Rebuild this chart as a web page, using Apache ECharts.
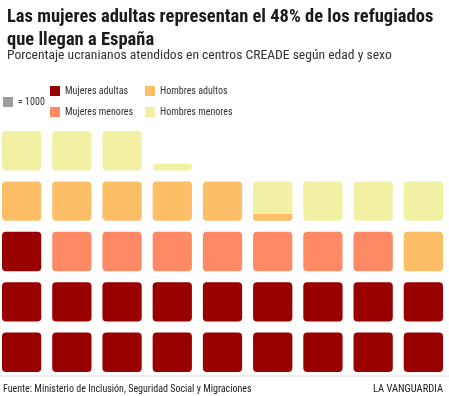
<!DOCTYPE html>
<html>
<head>
<meta charset="utf-8">
<script src="https://cdn.jsdelivr.net/npm/echarts@6/dist/echarts.min.js"></script>
<style>html,body{margin:0;padding:0;background:#fff;}#c{width:449px;height:396px;}</style>
</head>
<body>
<div id="c"></div>
<script>
const titleText = 'Las mujeres adultas representan el 48% de los refugiados\nque llegan a España';
const subtitleText = 'Porcentaje ucranianos atendidos en centros CREADE según edad y sexo';
const sourceText = 'Fuente: Ministerio de Inclusión, Seguridad Social y Migraciones';
const brandText = 'LA VANGUARDIA';
const unitLabel = '= 1000';
const unitValue = 1000;
const categories = ['Mujeres adultas', 'Mujeres menores', 'Hombres adultos', 'Hombres menores'];
const values = [19000, 7000, 6170, 7000];
const colors = ['#990000', '#fd8a64', '#fdbe68', '#f1f0a3'];
const gridCols = 9;
const gridRows = 5;

const CELL = 0.782;
const FONT = "'Roboto Condensed', 'Liberation Sans Narrow', 'DejaVu Sans Condensed', Roboto, sans-serif";

const totalUnits = values.reduce((a, b) => a + b, 0) / unitValue;
let cum = 0;
const seriesCells = values.map(v => {
  const s = cum, e = cum + v / unitValue;
  cum = e;
  const cells = [];
  for (let k = Math.floor(s); k < Math.ceil(e - 1e-9); k++) {
    const lo = Math.max(s, k) - k, hi = Math.min(e, k + 1) - k;
    const isTop = (hi >= 1 - 1e-9) || (Math.abs(e - totalUnits) < 1e-9 && k === Math.ceil(totalUnits) - 1);
    cells.push([k % gridCols, Math.floor(k / gridCols), lo, hi, isTop ? 1 : 0]);
  }
  return cells;
});

function renderItem(params, api) {
  const col = api.value(0), row = api.value(1), lo = api.value(2), hi = api.value(3), top = api.value(4);
  const p = api.coord([col, row]);
  const size = api.size([1, 1]);
  const w = size[0] * CELL, h = size[1] * CELL;
  const y0 = p[1] - hi * h;
  const hh = (hi - lo) * h;
  const r = Math.min(4, hh / 2);
  const rt = top ? r : 0, rb = lo <= 1e-9 ? r : 0;
  return {
    type: 'rect',
    shape: { x: p[0], y: y0, width: w, height: hh, r: [rt, rt, rb, rb] },
    style: { fill: api.visual('color') }
  };
}

const chart = echarts.init(document.getElementById('c'), null, { renderer: 'canvas' });
const series = categories.map((name, i) => ({
  name: name,
  type: 'custom',
  renderItem: renderItem,
  itemStyle: { color: colors[i] },
  encode: { x: 0, y: 1 },
  data: seriesCells[i],
  silent: true
}));
series.push({ name: unitLabel, type: 'custom', renderItem: renderItem, itemStyle: { color: '#9e9e9e' }, data: [] });

const legendText = { fontFamily: FONT, fontSize: 10, color: '#333' };
const legendBase = { icon: 'rect', itemWidth: 10, itemHeight: 10, padding: 0, textStyle: legendText, selectedMode: false };
chart.setOption({
  animation: false,
  title: [
    {
      text: titleText,
      left: 2, top: 1,
      textStyle: { fontFamily: FONT, fontSize: 18.5, fontWeight: 'bold', color: '#1a1a1a', lineHeight: 23 }
    },
    {
      text: subtitleText,
      left: 2, top: 44,
      textStyle: { fontFamily: FONT, fontSize: 13.6, fontWeight: 'normal', color: '#333' }
    }
  ],
  legend: [
    Object.assign({ data: [unitLabel], left: 3, top: 97, itemGap: 4 }, legendBase),
    Object.assign({ data: [categories[0], categories[1]], orient: 'vertical', left: 50, top: 86, itemGap: 11 }, legendBase),
    Object.assign({ data: [categories[2], categories[3]], orient: 'vertical', left: 145, top: 86, itemGap: 11 }, legendBase)
  ],
  grid: { left: 2, top: 131, width: 441, height: 241 },
  xAxis: { type: 'value', min: 0, max: gridCols - 1 + CELL, show: false },
  yAxis: { type: 'value', min: 0, max: gridRows - 1 + CELL, show: false },
  series: series,
  graphic: [
    { type: 'line', shape: { x1: 0, y1: 376, x2: 449, y2: 376 }, style: { stroke: '#dddddd', lineWidth: 1 } },
    { type: 'text', left: 3, top: 384, style: { text: sourceText, fontFamily: FONT, fontSize: 10, fill: '#222' } },
    { type: 'text', right: 6, top: 384, style: { text: brandText, fontFamily: FONT, fontSize: 10.5, fill: '#222' } }
  ]
});
</script>
</body>
</html>
